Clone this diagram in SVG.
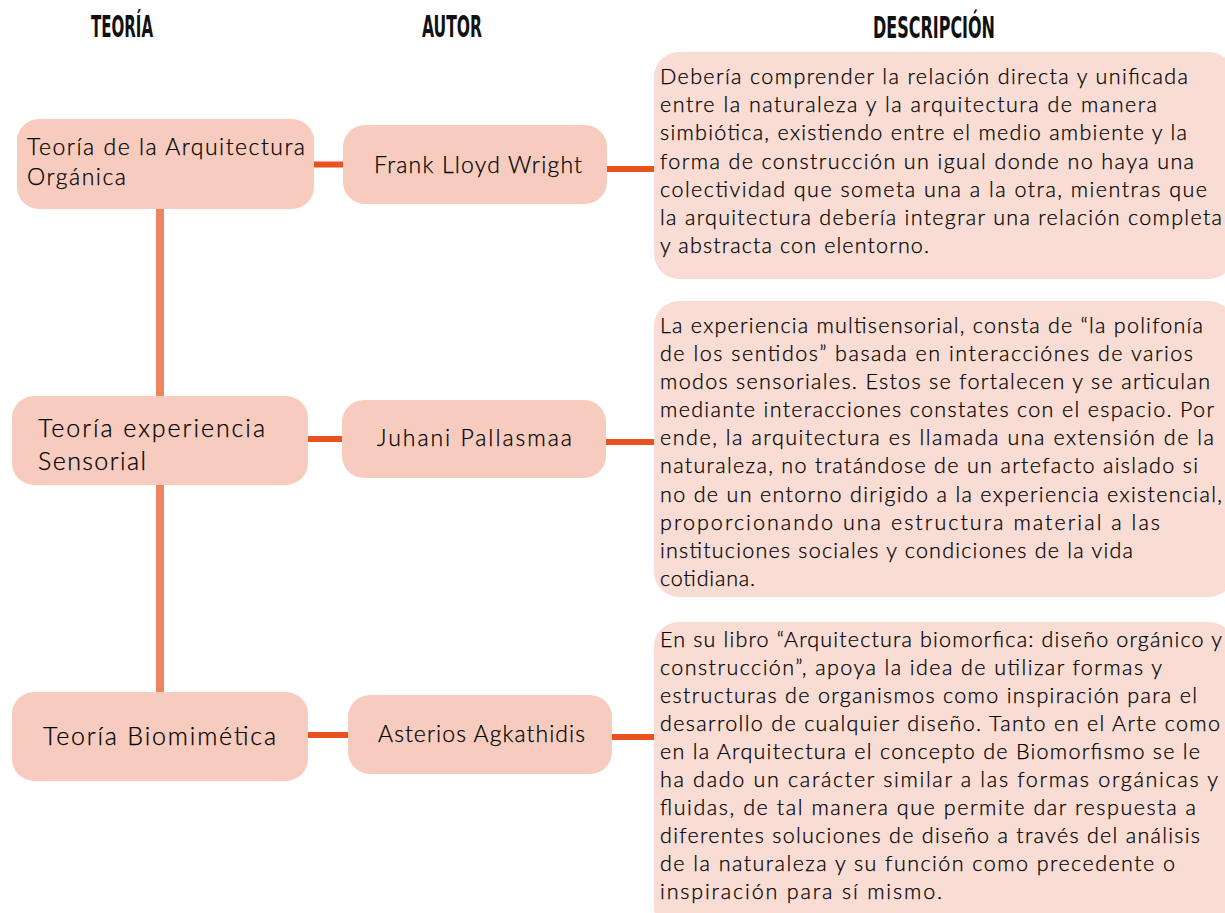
<svg xmlns="http://www.w3.org/2000/svg" width="1225" height="913" viewBox="0 0 1225 913">
<style>
.hdr{font-family:"DejaVu Sans Condensed","DejaVu Sans",sans-serif;font-weight:bold;font-size:31px;fill:#111}
.node{fill:#F7CCBF}
.desc{fill:#F9DCD4}
.t{font-family:Lato,"Noto Sans",sans-serif;font-weight:300;fill:#000;stroke:#000;stroke-width:0.25}
.th{font-size:23px}
.th2{font-size:25px}
.au{font-size:23px}
.d{font-size:21.5px}
.hc{stroke:#E8521F;stroke-width:6;fill:none}
.vc{stroke:#EF8460;stroke-width:8;fill:none}
</style>
<rect width="1225" height="913" fill="#ffffff"/>
<g id="headers">
<text class="hdr" x="91" y="37" textLength="62" lengthAdjust="spacingAndGlyphs">TEORÍA</text>
<text class="hdr" x="422" y="37" textLength="60" lengthAdjust="spacingAndGlyphs">AUTOR</text>
<text class="hdr" x="873" y="38" textLength="122" lengthAdjust="spacingAndGlyphs">DESCRIPCIÓN</text>
</g>
<g id="connectors">
<line class="vc" x1="160" y1="205" x2="160" y2="696"/>
<line class="hc" x1="312" y1="164.5" x2="345" y2="164.5"/>
<line class="hc" x1="605" y1="169" x2="656" y2="169"/>
<line class="hc" x1="306" y1="439" x2="344" y2="439"/>
<line class="hc" x1="604" y1="442" x2="656" y2="442"/>
<line class="hc" x1="306" y1="735" x2="350" y2="735"/>
<line class="hc" x1="610" y1="737" x2="656" y2="737"/>
</g>
<g id="teoria1">
<rect class="node" x="17" y="119" width="297" height="90" rx="22"/>
<text class="t th" x="27" y="155" textLength="278" lengthAdjust="spacing">Teoría de la Arquitectura</text>
<text class="t th" x="27" y="185" textLength="99" lengthAdjust="spacing">Orgánica</text>
</g>
<g id="autor1">
<rect class="node" x="343" y="125" width="264" height="79" rx="22"/>
<text class="t au" x="374" y="173" textLength="208" lengthAdjust="spacing">Frank Lloyd Wright</text>
</g>
<g id="desc1">
<rect class="desc" x="654" y="52" width="580" height="227" rx="25"/>
<text class="t d" x="660" y="84" textLength="528" lengthAdjust="spacing">Debería comprender la relación directa y unificada</text>
<text class="t d" x="660" y="112" textLength="497" lengthAdjust="spacing">entre la naturaleza y la arquitectura de manera</text>
<text class="t d" x="660" y="140" textLength="527" lengthAdjust="spacing">simbiótica, existiendo entre el medio ambiente y la</text>
<text class="t d" x="660" y="169" textLength="534" lengthAdjust="spacing">forma de construcción un igual donde no haya una</text>
<text class="t d" x="660" y="197" textLength="547" lengthAdjust="spacing">colectividad que someta una a la otra, mientras que</text>
<text class="t d" x="660" y="225" textLength="562" lengthAdjust="spacing">la arquitectura debería integrar una relación completa</text>
<text class="t d" x="660" y="253" textLength="269" lengthAdjust="spacing">y abstracta con elentorno.</text>
</g>
<g id="teoria2">
<rect class="node" x="12" y="396" width="296" height="89" rx="22"/>
<text class="t th2" x="38" y="437" textLength="227" lengthAdjust="spacing">Teoría experiencia</text>
<text class="t th2" x="38" y="470" textLength="108" lengthAdjust="spacing">Sensorial</text>
</g>
<g id="autor2">
<rect class="node" x="342" y="400" width="264" height="78" rx="22"/>
<text class="t au" x="377" y="446" textLength="195" lengthAdjust="spacing">Juhani Pallasmaa</text>
</g>
<g id="desc2">
<rect class="desc" x="654" y="301" width="580" height="296" rx="25"/>
<text class="t d" x="660" y="333" textLength="543" lengthAdjust="spacing">La experiencia multisensorial, consta de “la polifonía</text>
<text class="t d" x="660" y="361" textLength="533" lengthAdjust="spacing">de los sentidos” basada en interacciónes de varios</text>
<text class="t d" x="660" y="389" textLength="550" lengthAdjust="spacing">modos sensoriales. Estos se fortalecen y se articulan</text>
<text class="t d" x="660" y="417" textLength="554" lengthAdjust="spacing">mediante interacciones constates con el espacio. Por</text>
<text class="t d" x="660" y="445" textLength="554" lengthAdjust="spacing">ende, la arquitectura es llamada una extensión de la</text>
<text class="t d" x="660" y="473" textLength="538" lengthAdjust="spacing">naturaleza, no tratándose de un artefacto aislado si</text>
<text class="t d" x="660" y="502" textLength="562" lengthAdjust="spacing">no de un entorno dirigido a la experiencia existencial,</text>
<text class="t d" x="660" y="530" textLength="500" lengthAdjust="spacing">proporcionando una estructura material a las</text>
<text class="t d" x="660" y="558" textLength="473" lengthAdjust="spacing">instituciones sociales y condiciones de la vida</text>
<text class="t d" x="660" y="586" textLength="95" lengthAdjust="spacing">cotidiana.</text>
</g>
<g id="teoria3">
<rect class="node" x="12" y="692" width="296" height="89" rx="22"/>
<text class="t th2" x="43" y="745" textLength="233" lengthAdjust="spacing">Teoría Biomimética</text>
</g>
<g id="autor3">
<rect class="node" x="348" y="695" width="264" height="79" rx="22"/>
<text class="t au" x="378" y="742" textLength="207" lengthAdjust="spacing">Asterios Agkathidis</text>
</g>
<g id="desc3">
<rect class="desc" x="654" y="622" width="580" height="310" rx="25"/>
<text class="t d" x="660" y="647" textLength="562" lengthAdjust="spacing">En su libro “Arquitectura biomorfica: diseño orgánico y</text>
<text class="t d" x="660" y="675" textLength="502" lengthAdjust="spacing">construcción”, apoya la idea de utilizar formas y</text>
<text class="t d" x="660" y="703" textLength="537" lengthAdjust="spacing">estructuras de organismos como inspiración para el</text>
<text class="t d" x="660" y="731" textLength="560" lengthAdjust="spacing">desarrollo de cualquier diseño. Tanto en el Arte como</text>
<text class="t d" x="660" y="759" textLength="540" lengthAdjust="spacing">en la Arquitectura el concepto de Biomorfismo se le</text>
<text class="t d" x="660" y="787" textLength="558" lengthAdjust="spacing">ha dado un carácter similar a las formas orgánicas y</text>
<text class="t d" x="660" y="815" textLength="536" lengthAdjust="spacing">fluidas, de tal manera que permite dar respuesta a</text>
<text class="t d" x="660" y="843" textLength="540" lengthAdjust="spacing">diferentes soluciones de diseño a través del análisis</text>
<text class="t d" x="660" y="871" textLength="515" lengthAdjust="spacing">de la naturaleza y su función como precedente o</text>
<text class="t d" x="660" y="899" textLength="282" lengthAdjust="spacing">inspiración para sí mismo.</text>
</g>
</svg>
